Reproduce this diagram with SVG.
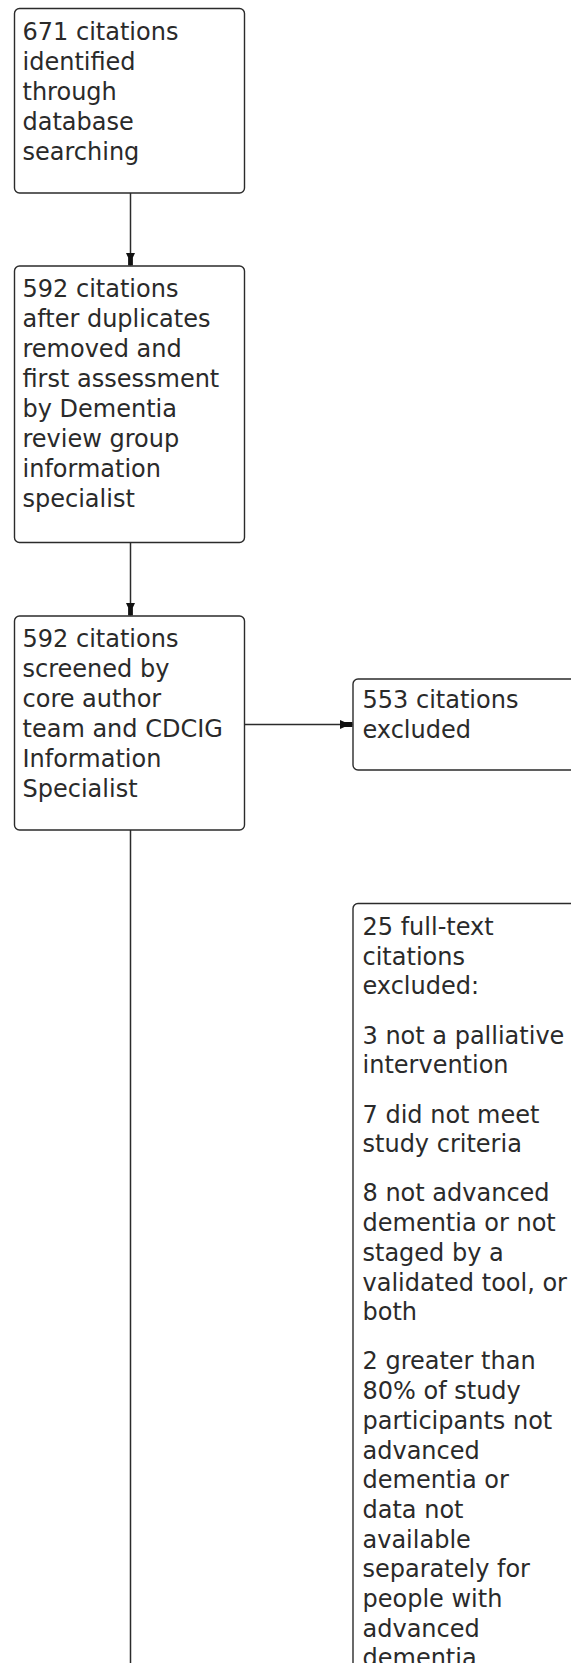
<svg xmlns="http://www.w3.org/2000/svg" width="571" height="1663" viewBox="0 0 571 1663">
<style>
.box{fill:#fff;stroke:#2b2b2b;stroke-width:1.4}
.t{font-family:"DejaVu Sans",Verdana,sans-serif;font-size:24px;fill:#2a2a2a}
.c{stroke:#2b2b2b;stroke-width:1.5;fill:none}
</style>
<defs>
<marker id="ah" markerUnits="userSpaceOnUse" markerWidth="14" markerHeight="10" viewBox="-13 -5 14 10" refX="0" refY="0" orient="auto" overflow="visible">
<path d="M-12.5,-4.5 L-8,-2.4 L0,-2.4 L0,2.4 L-8,2.4 L-12.5,4.5 Z" fill="#111"/>
</marker>
</defs>
<rect width="571" height="1663" fill="#fff"/>
<g id="connectors">
<line class="c" x1="130.5" y1="193" x2="130.5" y2="265.5" marker-end="url(#ah)"/>
<line class="c" x1="130.5" y1="542.5" x2="130.5" y2="615.5" marker-end="url(#ah)"/>
<line class="c" x1="244.5" y1="724.5" x2="352.5" y2="724.5" marker-end="url(#ah)"/>
<line class="c" x1="130.5" y1="830" x2="130.5" y2="1670"/>
</g>
<g id="n1">
<rect class="box" x="14.5" y="8.5" width="230" height="184.5" rx="5"/>
<text class="t"><tspan x="22.5" y="40">671 citations</tspan><tspan x="22.5" y="70">identified</tspan><tspan x="22.5" y="100">through</tspan><tspan x="22.5" y="130">database</tspan><tspan x="22.5" y="160">searching</tspan></text>
</g>
<g id="n2">
<rect class="box" x="14.5" y="266" width="230" height="276.5" rx="5"/>
<text class="t"><tspan x="22.5" y="297">592 citations</tspan><tspan x="22.5" y="327">after duplicates</tspan><tspan x="22.5" y="357">removed and</tspan><tspan x="22.5" y="387">first assessment</tspan><tspan x="22.5" y="417">by Dementia</tspan><tspan x="22.5" y="447">review group</tspan><tspan x="22.5" y="477">information</tspan><tspan x="22.5" y="507">specialist</tspan></text>
</g>
<g id="n3">
<rect class="box" x="14.5" y="616" width="230" height="214" rx="5"/>
<text class="t"><tspan x="22.5" y="647">592 citations</tspan><tspan x="22.5" y="677">screened by</tspan><tspan x="22.5" y="707">core author</tspan><tspan x="22.5" y="737">team and CDCIG</tspan><tspan x="22.5" y="767">Information</tspan><tspan x="22.5" y="797">Specialist</tspan></text>
</g>
<g id="n4">
<rect class="box" x="353" y="679" width="230" height="91" rx="5"/>
<text class="t"><tspan x="362.5" y="708">553 citations</tspan><tspan x="362.5" y="738">excluded</tspan></text>
</g>
<g id="n5">
<rect class="box" x="353" y="903.5" width="230" height="800" rx="5"/>
<text class="t">
<tspan x="362.5" y="935">25 full-text</tspan><tspan x="362.5" y="964.7">citations</tspan><tspan x="362.5" y="994.4">excluded:</tspan>
<tspan x="362.5" y="1043.6">3 not a palliative</tspan><tspan x="362.5" y="1073.3">intervention</tspan>
<tspan x="362.5" y="1122.5">7 did not meet</tspan><tspan x="362.5" y="1152.2">study criteria</tspan>
<tspan x="362.5" y="1201.4">8 not advanced</tspan><tspan x="362.5" y="1231.1">dementia or not</tspan><tspan x="362.5" y="1260.8">staged by a</tspan><tspan x="362.5" y="1290.5">validated tool, or</tspan><tspan x="362.5" y="1320.2">both</tspan>
<tspan x="362.5" y="1369.4">2 greater than</tspan><tspan x="362.5" y="1399.1">80% of study</tspan><tspan x="362.5" y="1428.8">participants not</tspan><tspan x="362.5" y="1458.5">advanced</tspan><tspan x="362.5" y="1488.2">dementia or</tspan><tspan x="362.5" y="1517.9">data not</tspan><tspan x="362.5" y="1547.6">available</tspan><tspan x="362.5" y="1577.3">separately for</tspan><tspan x="362.5" y="1607">people with</tspan><tspan x="362.5" y="1636.7">advanced</tspan><tspan x="362.5" y="1666.4">dementia</tspan>
</text>
</g>
</svg>
